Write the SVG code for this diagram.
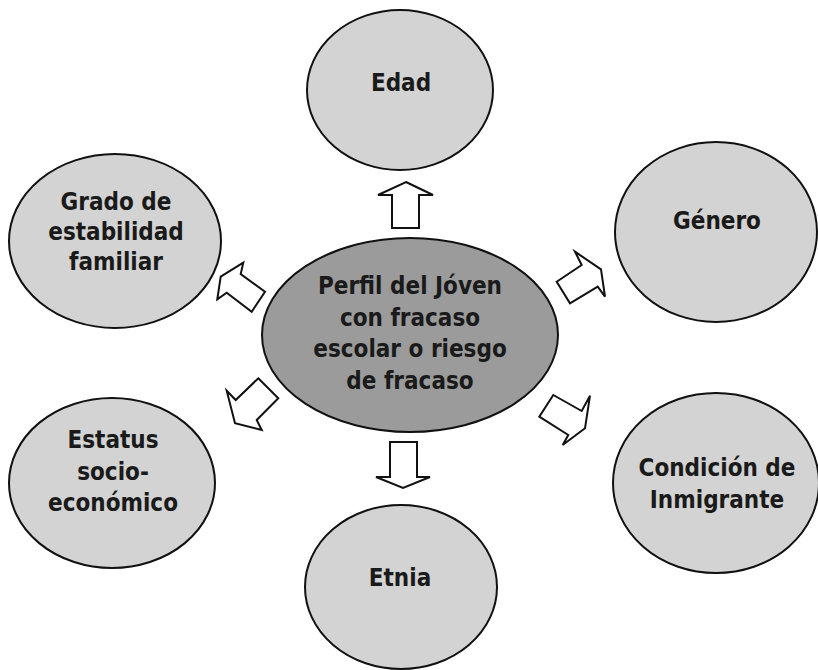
<svg xmlns="http://www.w3.org/2000/svg" width="818" height="670" viewBox="0 0 818 670">
<style>
.n{fill:#d3d3d3;stroke:#111;stroke-width:2}
.c{fill:#9b9b9b;stroke:#111;stroke-width:2}
.t{font-family:"DejaVu Sans Condensed","DejaVu Sans",Verdana,sans-serif;font-weight:bold;font-size:24px;fill:#1a1a1a;text-anchor:middle}
.a{fill:#fff;stroke:#111;stroke-width:2;stroke-linejoin:miter}
</style>
<rect width="818" height="670" fill="#fff"/>
<g id="connectors">
<polygon class="a" points="406,182 433,195 419,195 419,228 392,228 392,195 378,195"/>
<polygon class="a" points="390,442 417,442 417,477 430,477 403,488 376,477 390,477"/>
<polygon class="a" points="243.3,262.7 220.7,276.7 217.3,299.3 226.7,292.7 251.7,311.7 265,291.7 240.7,274"/>
<polygon class="a" points="575,251.7 601,269.3 605,296.7 597.7,286.7 570,303.3 556.7,281.7 581.7,265"/>
<polygon class="a" points="258.3,378.3 278.3,398.3 256.7,420 261.7,430 235,423.3 226.7,390.7 235.7,400"/>
<polygon class="a" points="553.3,395 581.7,411 590,395.7 585,428.3 562.7,445 568.3,435 539.3,416.7"/>
</g>
<g id="edad">
<ellipse class="n" cx="400" cy="90" rx="93" ry="80"/>
<text class="t" x="401" y="91">Edad</text>
</g>
<g id="centro">
<ellipse class="c" cx="410" cy="335" rx="148" ry="97"/>
<text class="t" x="410" y="294" font-size="25">Perfil del Jóven</text>
<text class="t" x="410" y="326" font-size="25">con fracaso</text>
<text class="t" x="410" y="357" font-size="25">escolar o riesgo</text>
<text class="t" x="410" y="389" font-size="25">de fracaso</text>
</g>
<g id="grado">
<ellipse class="n" cx="115" cy="241" rx="106" ry="87"/>
<text class="t" x="116" y="210">Grado de</text>
<text class="t" x="116" y="240">estabilidad</text>
<text class="t" x="116" y="270">familiar</text>
</g>
<g id="genero">
<ellipse class="n" cx="716" cy="232" rx="101" ry="90"/>
<text class="t" x="717" y="229">Género</text>
</g>
<g id="estatus">
<ellipse class="n" cx="112" cy="483" rx="103" ry="85"/>
<text class="t" x="113" y="448">Estatus</text>
<text class="t" x="113" y="480">socio-</text>
<text class="t" x="113" y="511">económico</text>
</g>
<g id="condicion">
<ellipse class="n" cx="716" cy="483" rx="103" ry="90"/>
<text class="t" x="717" y="476">Condición de</text>
<text class="t" x="717" y="508">Inmigrante</text>
</g>
<g id="etnia">
<ellipse class="n" cx="401" cy="587" rx="96" ry="82"/>
<text class="t" x="400" y="586">Etnia</text>
</g>
</svg>
